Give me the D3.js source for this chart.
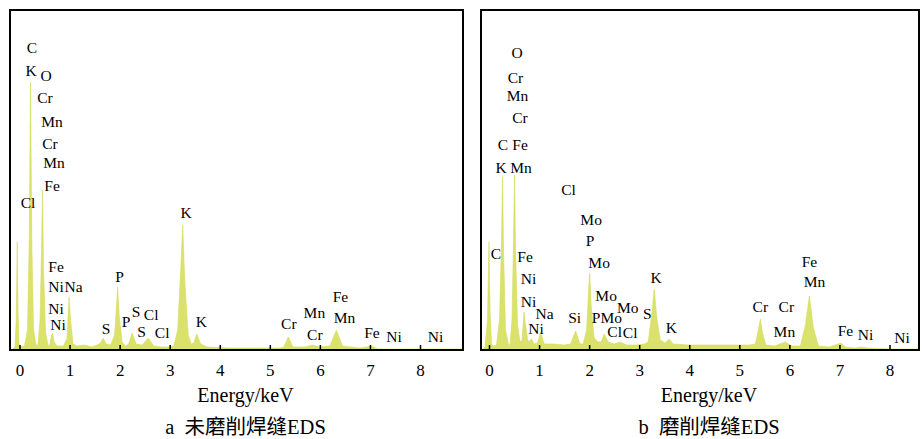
<!DOCTYPE html>
<html>
<head>
<meta charset="utf-8">
<script src="https://cdn.jsdelivr.net/npm/d3@7"></script>
<style>
  body { margin: 0; background: #fff; }
  text { font-family: "Liberation Serif", "Times New Roman", "Noto Sans CJK SC", serif; fill: #000; }
</style>
</head>
<body>
<div id="chart"></div>
<script>
var svgWidth = 922;
var svgHeight = 439;

// energy ticks (keV)
var tickValues = [0, 1, 2, 3, 4, 5, 6, 7, 8];

// spectrum a: [energy keV, intensity a.u.]
var spectrumA = [
    [-0.19, 0], [-0.12, 1], [-0.09, 3], [-0.065, 30], [-0.045, 108], [-0.03, 40], [-0.01, 6], [0.02, 3],
    [0.10, 4], [0.16, 20], [0.195, 110], [0.22, 268], [0.245, 110], [0.28, 20], [0.33, 5],
    [0.37, 5], [0.41, 30], [0.44, 100], [0.46, 160], [0.48, 80], [0.52, 18], [0.57, 5],
    [0.60, 4], [0.64, 15], [0.66, 17], [0.69, 8], [0.75, 4],
    [0.88, 4], [0.95, 12], [0.99, 53], [1.02, 30], [1.07, 6], [1.15, 4],
    [1.30, 5], [1.45, 3], [1.55, 5],
    [1.62, 7], [1.67, 12], [1.73, 6],
    [1.82, 5], [1.90, 15], [1.94, 45], [1.96, 63], [1.99, 35], [2.05, 8], [2.12, 4],
    [2.18, 6], [2.25, 17], [2.33, 6],
    [2.45, 5], [2.57, 12], [2.68, 4], [2.85, 3], [3.00, 3],
    [3.08, 4], [3.16, 20], [3.22, 80], [3.26, 125], [3.30, 70], [3.37, 15], [3.43, 6],
    [3.48, 7], [3.54, 16], [3.62, 6], [3.75, 3],
    [4.20, 2], [4.80, 2], [5.20, 2],
    [5.28, 3], [5.37, 13], [5.46, 3], [5.70, 3], [5.85, 5], [6.00, 3],
    [6.20, 4], [6.33, 20], [6.45, 4],
    [6.80, 2], [7.04, 4], [7.15, 1], [8.00, 1], [8.85, 1]
];

// spectrum b
var spectrumB = [
    [-0.16, 0], [-0.12, 1], [-0.08, 3], [-0.03, 30], [0.00, 108], [0.02, 40], [0.05, 6], [0.09, 4],
    [0.15, 5], [0.21, 30], [0.25, 110], [0.27, 173], [0.29, 100], [0.33, 20], [0.39, 5],
    [0.42, 5], [0.46, 30], [0.49, 110], [0.51, 175], [0.53, 100], [0.57, 25], [0.62, 8],
    [0.66, 10], [0.70, 38], [0.73, 25], [0.78, 8],
    [0.85, 11], [0.90, 6],
    [0.97, 7], [1.03, 18], [1.10, 6],
    [1.30, 6], [1.50, 5],
    [1.63, 6], [1.73, 19], [1.82, 6],
    [1.88, 6], [1.95, 20], [1.99, 60], [2.01, 77], [2.04, 45], [2.10, 12], [2.18, 8],
    [2.24, 8], [2.30, 16], [2.38, 8],
    [2.50, 6], [2.62, 8], [2.75, 5], [2.95, 5], [3.10, 6],
    [3.18, 8], [3.25, 35], [3.30, 61], [3.35, 33], [3.42, 10],
    [3.52, 7], [3.60, 11], [3.68, 6],
    [4.00, 5], [4.50, 5], [5.00, 5], [5.20, 5],
    [5.32, 6], [5.38, 20], [5.42, 31], [5.46, 18], [5.53, 5],
    [5.70, 4], [5.92, 8], [6.05, 4],
    [6.22, 4], [6.32, 25], [6.40, 54], [6.48, 22], [6.58, 4],
    [6.80, 3], [7.03, 7], [7.12, 3], [7.30, 2], [7.45, 3], [7.55, 2], [8.00, 1], [8.60, 1]
];

// element labels: [energy keV, intensity a.u., element]
var labelsA = [
    [0.25, 297, "C"], [0.23, 274, "K"], [0.53, 269, "O"], [0.51, 247, "Cr"], [0.65, 223, "Mn"],
    [0.61, 201, "Cr"], [0.69, 182, "Mn"], [0.65, 159, "Fe"], [0.17, 142, "Cl"],
    [0.73, 78, "Fe"], [0.73, 58, "Ni"], [1.08, 58, "Na"], [0.73, 36, "Ni"], [0.77, 20, "Ni"],
    [1.73, 16, "S"], [2.00, 68, "P"], [2.13, 23, "P"], [2.33, 33, "S"], [2.63, 30, "Cl"],
    [2.44, 13, "S"], [2.85, 12, "Cl"], [3.33, 132, "K"], [3.63, 23, "K"],
    [5.38, 21, "Cr"], [5.89, 32, "Mn"], [5.90, 10, "Cr"], [6.41, 48, "Fe"], [6.49, 27, "Mn"],
    [7.04, 12, "Fe"], [7.48, 8, "Ni"], [8.31, 8, "Ni"]
];

var labelsB = [
    [0.56, 292, "O"], [0.53, 267, "Cr"], [0.57, 249, "Mn"], [0.62, 227, "Cr"],
    [0.28, 200, "C"], [0.62, 200, "Fe"], [0.24, 177, "K"], [0.64, 177, "Mn"],
    [1.59, 155, "Cl"], [2.04, 125, "Mo"], [2.02, 104, "P"], [2.20, 82, "Mo"],
    [0.14, 91, "C"], [0.72, 88, "Fe"], [0.79, 66, "Ni"], [0.79, 43, "Ni"], [1.11, 31, "Na"],
    [0.94, 16, "Ni"], [1.71, 27, "Si"], [2.34, 49, "Mo"], [2.14, 27, "P"], [2.44, 27, "Mo"],
    [2.77, 37, "Mo"], [2.51, 13, "Cl"], [2.82, 12, "Cl"], [3.16, 31, "S"], [3.34, 67, "K"],
    [3.64, 17, "K"], [6.40, 83, "Fe"], [6.50, 63, "Mn"], [5.42, 38, "Cr"], [5.94, 38, "Cr"],
    [5.90, 13, "Mn"], [7.12, 14, "Fe"], [7.52, 10, "Ni"], [8.25, 7, "Ni"]
];

var xTitle = "Energy/keV";
var captionA = "a  未磨削焊缝EDS";
var captionB = "b  磨削焊缝EDS";

var svg = d3.select("#chart")
    .append("svg")
    .attr("width", svgWidth)
    .attr("height", svgHeight);

var plotTop = 10;
var plotBottom = 350;
var yScale = d3.scaleLinear().domain([0, 340]).range([plotBottom, plotTop]);

function drawPanel(left, right, zeroX, spectrum, labels, caption) {
    var xScale = d3.scaleLinear()
        .domain([0, 8])
        .range([zeroX, zeroX + 400.5]);

    var g = svg.append("g");

    var clipId = "clip" + left;
    g.append("clipPath").attr("id", clipId)
        .append("rect")
        .attr("x", left).attr("y", plotTop)
        .attr("width", right - left).attr("height", plotBottom - plotTop);

    var area = d3.area()
        .x(d => xScale(d[0]))
        .y0(yScale(0))
        .y1(d => yScale(d[1]));

    g.append("path")
        .datum(spectrum)
        .attr("clip-path", `url(#${clipId})`)
        .attr("d", area)
        .attr("fill", "#dbe26b")
        .attr("stroke", "#d3dc5a")
        .attr("stroke-width", 0.6);

    // frame
    g.append("rect")
        .attr("x", left)
        .attr("y", plotTop)
        .attr("width", right - left)
        .attr("height", plotBottom - plotTop)
        .attr("fill", "none")
        .attr("stroke", "#000")
        .attr("stroke-width", 2);

    var bottomAxis = d3.axisBottom(xScale)
        .tickValues(tickValues)
        .tickSizeInner(-5)
        .tickSizeOuter(0)
        .tickPadding(14)
        .tickFormat(d3.format("d"));

    var xAxis = g.append("g")
        .attr("transform", `translate(0,${plotBottom})`)
        .call(bottomAxis);
    xAxis.select(".domain").remove();
    xAxis.selectAll(".tick line").attr("stroke", "#000").attr("stroke-width", 1.5);
    xAxis.selectAll(".tick text")
        .attr("font-family", null)
        .style("font-family", "'Liberation Serif', 'Times New Roman', serif")
        .style("font-size", "17px");

    g.selectAll(".elem")
        .data(labels)
        .enter()
        .append("text")
        .attr("class", "elem")
        .attr("x", d => xScale(d[0]))
        .attr("y", d => yScale(d[1]))
        .attr("text-anchor", "middle")
        .style("font-size", "15.5px")
        .text(d => d[2]);

    var cx = (left + right) / 2 + 9;
    g.append("text")
        .attr("x", cx)
        .attr("y", 402)
        .attr("text-anchor", "middle")
        .style("font-size", "20px")
        .text(xTitle);

    g.append("text")
        .attr("x", cx)
        .attr("y", 434)
        .attr("text-anchor", "middle")
        .style("font-size", "20.5px")
        .style("white-space", "pre")
        .text(caption);
}

drawPanel(10, 463, 19.5, spectrumA, labelsA, captionA);
drawPanel(481, 919, 489, spectrumB, labelsB, captionB);
</script>
</body>
</html>
